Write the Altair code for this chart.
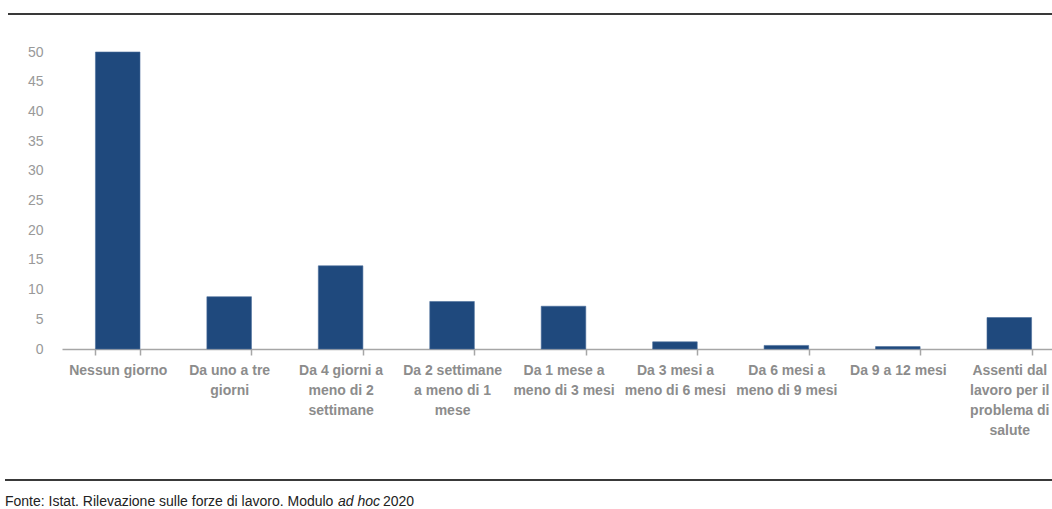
import altair as alt
import pandas as pd

# Durata dell'assenza dal lavoro (valori percentuali)
categories = [
    "Nessun giorno",
    "Da uno a tre giorni",
    "Da 4 giorni a meno di 2 settimane",
    "Da 2 settimane a meno di 1 mese",
    "Da 1 mese a meno di 3 mesi",
    "Da 3 mesi a meno di 6 mesi",
    "Da 6 mesi a meno di 9 mesi",
    "Da 9 a 12 mesi",
    "Assenti dal lavoro per il problema di salute",
]
values = [50.0, 8.8, 14.0, 8.0, 7.2, 1.2, 0.6, 0.4, 5.3]

# Righe delle etichette dell'asse x
label_lines = [
    ["Nessun giorno"],
    ["Da uno a tre", "giorni"],
    ["Da 4 giorni a", "meno di 2", "settimane"],
    ["Da 2 settimane", "a meno di 1", "mese"],
    ["Da 1 mese a", "meno di 3 mesi"],
    ["Da 3 mesi a", "meno di 6 mesi"],
    ["Da 6 mesi a", "meno di 9 mesi"],
    ["Da 9 a 12 mesi"],
    ["Assenti dal", "lavoro per il", "problema di", "salute"],
]
y_ticks = [0, 5, 10, 15, 20, 25, 30, 35, 40, 45, 50]

source_main = "Fonte: Istat. Rilevazione sulle forze di lavoro. Modulo"
source_italic = "ad hoc"
source_year = "2020"

FONT = "Liberation Sans Narrow, Arial Narrow, Liberation Sans, sans-serif"

df = pd.DataFrame({"categoria": categories, "valore": values})

label_map = "{" + ", ".join(
    "'" + c + "': [" + ", ".join("'" + l + "'" for l in lines) + "]"
    for c, lines in zip(categories, label_lines)
) + "}"

bars = alt.Chart(df).mark_bar(color="#1f497d", stroke="#4a6d9a", strokeWidth=0.6).encode(
    x=alt.X(
        "categoria:N",
        sort=categories,
        scale=alt.Scale(range=[0, 1003], paddingInner=0.6, paddingOuter=0.3),
        axis=alt.Axis(
            title=None,
            labelAngle=0,
            labelExpr=label_map + "[datum.value]",
            labelFont=FONT,
            labelFontSize=14,
            labelFontWeight="bold",
            labelColor="#8c8c8c",
            labelLineHeight=20,
            labelPadding=8,
            labelBaseline="top",
            labelAlign="center",
            bandPosition=0,
            tickBand="extent",
            ticks=True,
            tickSize=6,
            tickColor="#a6a6a6",
            tickWidth=1.5,
            domainColor="#a6a6a6",
            domainWidth=1.5,
            grid=False,
            labelOverlap=False,
        ),
    ),
    y=alt.Y(
        "valore:Q",
        scale=alt.Scale(domain=[0, 50], nice=False),
        axis=alt.Axis(
            title=None,
            values=y_ticks,
            labelFont=FONT,
            labelFontSize=14,
            labelColor="#999999",
            labelPadding=19,
            ticks=False,
            domain=False,
            grid=False,
        ),
    ),
)

top_rule = alt.Chart(df).mark_rule(color="#3a3a3a", strokeWidth=1.6).encode(
    x=alt.value(-54), x2=alt.value(990), y=alt.value(-38)
)
bottom_rule = alt.Chart(df).mark_rule(color="#3a3a3a", strokeWidth=1.6).encode(
    x=alt.value(-57), x2=alt.value(990), y=alt.value(428)
)

def note(text, x, style="normal"):
    return alt.Chart(pd.DataFrame({"t": [text]})).mark_text(
        align="left", baseline="middle", font=FONT, fontSize=14,
        fontStyle=style, color="#222222",
    ).encode(x=alt.value(x), y=alt.value(450), text="t:N")

chart = alt.layer(
    bars,
    top_rule,
    bottom_rule,
    note(source_main, -57),
    note(source_italic, 276, "italic"),
    note(source_year, 321),
).properties(
    width=990,
    height=297,
    background="white",
    padding={"left": 62, "top": 52, "right": 0, "bottom": 160},
    autosize=alt.AutoSizeParams(type="none"),
).configure_view(stroke=None)

chart.save("out.html", embed_options={"renderer": "svg", "actions": False})
